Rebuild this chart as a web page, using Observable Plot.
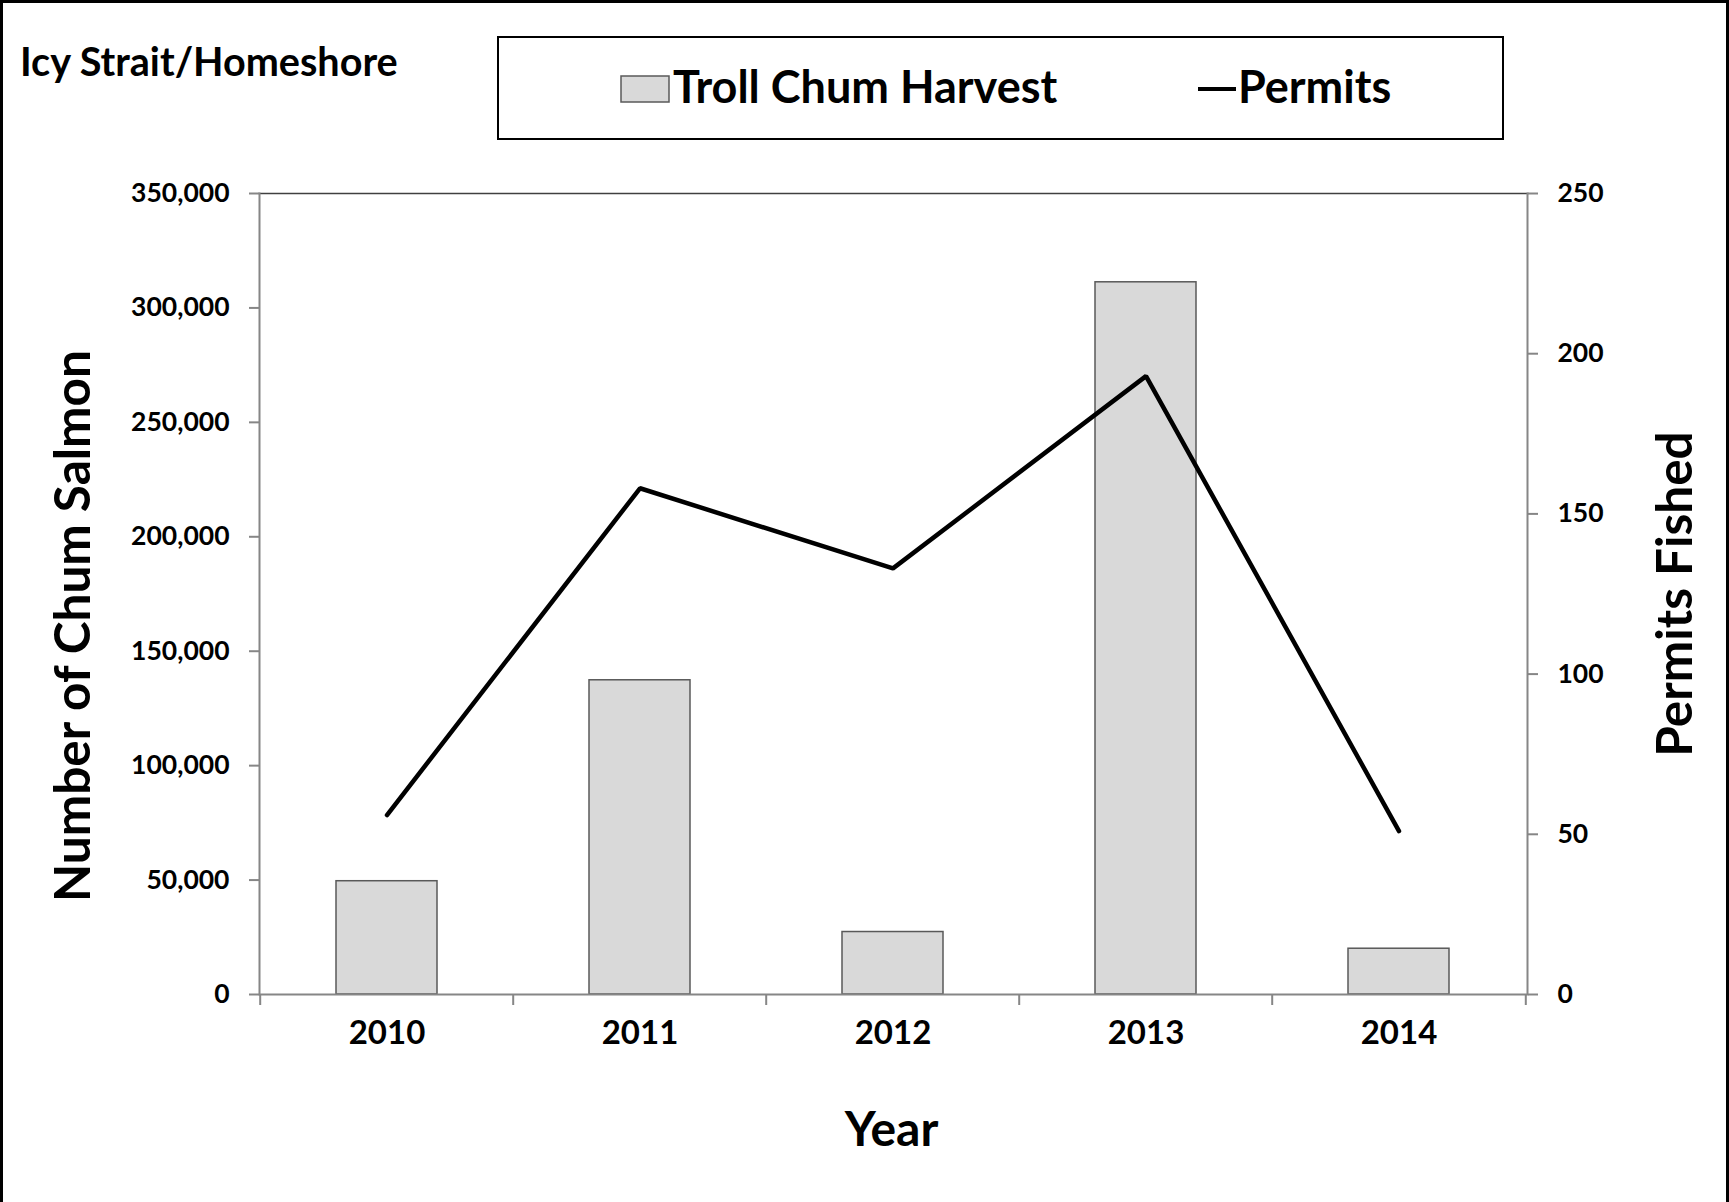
<!DOCTYPE html>
<html>
<head>
<meta charset="utf-8">
<script src="https://cdn.jsdelivr.net/npm/d3@7"></script>
<script src="https://cdn.jsdelivr.net/npm/@observablehq/plot@0.6"></script>
<style>
  html, body { margin: 0; padding: 0; background: #fff; }
  #page { position: relative; width: 1729px; height: 1202px; overflow: hidden; font-family: Lato, sans-serif; }
  #border { position: absolute; left: 0; top: 0; width: 1729px; height: 1202px; box-sizing: border-box;
            border: 3px solid #000; border-bottom: none; pointer-events: none; }
  #header, #chart svg { display: block; }
</style>
</head>
<body>
<div id="page">
  <svg id="header" width="1729" height="150" font-family="Lato, sans-serif" font-weight="bold">
    <text x="20" y="76" font-size="39.6">Icy Strait/Homeshore</text>
    <rect x="498" y="37" width="1005" height="102" fill="none" stroke="#000" stroke-width="2"></rect>
    <rect x="621" y="76" width="48" height="26" fill="#d9d9d9" stroke="#595959" stroke-width="1.5"></rect>
    <text x="673" y="103" font-size="45">Troll Chum Harvest</text>
    <line x1="1198" x2="1236" y1="89" y2="89" stroke="#000" stroke-width="4"></line>
    <text x="1238" y="103" font-size="45">Permits</text>
  </svg>
  <div id="chart"></div>
  <div id="border"></div>
</div>
<script>
// ---- data ----
const years = ["2010", "2011", "2012", "2013", "2014"];
const harvest = [49500, 137300, 27300, 311200, 20000];
const permits = [56, 158, 133, 193, 51];
const harvestTicks = [0, 50000, 100000, 150000, 200000, 250000, 300000, 350000];
const permitTicks = [0, 50, 100, 150, 200, 250];
const leftTitle = "Number of Chum Salmon";
const rightTitle = "Permits Fished";
const xTitle = "Year";

// ---- layout ----
const W = 1729, H = 1052;
const mL = 259, mR = 202, mT = 43, mB = 208;
const step = (W - mL - mR) / years.length;
const ratio = harvestTicks[harvestTicks.length - 1] / permitTicks[permitTicks.length - 1];
const data = years.map((year, i) => ({year, harvest: harvest[i], permits: permits[i]}));
const gray = "#868686";

const chart = Plot.plot({
  width: W, height: H,
  marginLeft: mL, marginRight: mR, marginTop: mT, marginBottom: mB,
  style: {fontFamily: "Lato, sans-serif", background: "transparent", overflow: "visible"},
  x: {type: "band", domain: years, paddingInner: 0.6, paddingOuter: 0.3, align: 0.5},
  y: {domain: [0, harvestTicks[harvestTicks.length - 1]]},
  marks: [
    Plot.barY(data, {x: "year", y: "harvest", fill: "#d9d9d9", stroke: "#595959", strokeWidth: 1.5}),
    Plot.frame({anchor: "top", stroke: "#404040", strokeWidth: 1.5}),
    Plot.frame({anchor: "left", stroke: gray, strokeWidth: 2}),
    Plot.frame({anchor: "right", stroke: gray, strokeWidth: 2}),
    Plot.ruleY([0], {stroke: gray, strokeWidth: 2}),
    Plot.ruleX(years, {x: d => d, dx: -step / 2, y1: () => 0, insetBottom: -11, stroke: gray, strokeWidth: 2}),
    Plot.ruleX(years.slice(-1), {x: d => d, dx: step / 2, y1: () => 0, insetBottom: -11, stroke: gray, strokeWidth: 2}),
    Plot.line(data, {x: "year", y: d => d.permits * ratio, stroke: "#000", strokeWidth: 4.5,
                     strokeLinejoin: "miter", strokeLinecap: "round"}),
    Plot.axisY(harvestTicks, {anchor: "left", tickFormat: d3.format(","), tickSize: 10, tickPadding: 20,
                              fontSize: 26.5, fontWeight: "bold", stroke: gray, strokeWidth: 2, fill: "#000", label: null}),
    Plot.axisY(permitTicks.map(v => v * ratio), {anchor: "right", tickFormat: d => String(Math.round(d / ratio)),
                              tickSize: 10, tickPadding: 20, fontSize: 26.5, fontWeight: "bold",
                              stroke: gray, strokeWidth: 2, fill: "#000", label: null}),
    Plot.axisX({tickSize: 0, tickPadding: 26, fontSize: 33, fontWeight: "bold", fill: "#000", label: null}),
    Plot.text([leftTitle], {frameAnchor: "left", dx: -185, dy: 32, rotate: -90, text: d => d,
                            fontSize: 49.5, fontWeight: "bold", fill: "#000", textAnchor: "middle", lineAnchor: "middle"}),
    Plot.text([rightTitle], {frameAnchor: "right", dx: 149, rotate: -90, text: d => d,
                             fontSize: 49.5, fontWeight: "bold", fill: "#000", textAnchor: "middle", lineAnchor: "middle"}),
    Plot.text([xTitle], {frameAnchor: "bottom", dy: 136, dx: -2, text: d => d,
                         fontSize: 48, fontWeight: "bold", fill: "#000", textAnchor: "middle", lineAnchor: "middle"})
  ]
});
document.getElementById("chart").appendChild(chart);
</script>
</body>
</html>
